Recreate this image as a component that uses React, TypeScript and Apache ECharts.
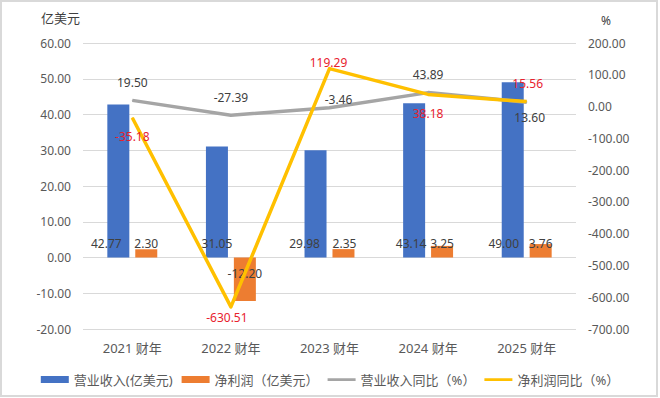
import React, { useEffect, useRef } from "react";
import * as echarts from "echarts";

const categories = ["2021 财年", "2022 财年", "2023 财年", "2024 财年", "2025 财年"];
const revenue = [42.77, 31.05, 29.98, 43.14, 49.0];
const netProfit = [2.3, -12.2, 2.35, 3.25, 3.76];
const revenueYoY = [19.5, -27.39, -3.46, 43.89, 13.6];
const netProfitYoY = [-35.18, -630.51, 119.29, 38.18, 15.56];

const leftAxis = { min: -20, max: 60, interval: 10 };
const rightAxis = { min: -700, max: 200, interval: 100 };

// label nudges (styling only)
const revenueLabelDx = [-12, 0, -11, -3, -9];
const netLabelDx = [0, 0, 1, 0, 0];
const revYoYOffset = [[0, -18], [0, -18], [9, -8], [0, -18], [3, 15]];
const npYoYOffset = [[0, 19], [-4, 11], [-1, -6], [0, 19], [1, -18]];

const FONT = '"Noto Sans", "Noto Sans CJK SC", sans-serif';
const LINE_ICON = "path://M0,0L0.01,0L0.01,0.01Z M0,2.2H28V5H0Z M27.99,7L28,7L28,6.99Z";

export default function App() {
  const ref = useRef<HTMLDivElement>(null);
  useEffect(() => {
    if (!ref.current) return;
    const chart = echarts.init(ref.current, null, { renderer: "svg" });
    const fmt2 = (v: number) => v.toFixed(2);
    chart.setOption({
      animation: false,
      backgroundColor: "#ffffff",
      textStyle: { fontFamily: FONT },
      grid: { left: 83, right: 84, top: 43, bottom: 69 },
      graphic: [
        {
          type: "rect",
          shape: { x: 1, y: 1, width: 656, height: 395 },
          style: { fill: "none", stroke: "#d9d9d9", lineWidth: 2 },
          silent: true,
        },
        {
          type: "text",
          x: 41,
          y: 11,
          style: { text: "亿美元", fontSize: 13, fill: "#404040", fontFamily: FONT },
        },
        {
          type: "text",
          x: 601,
          y: 14,
          style: { text: "%", fontSize: 12, fill: "#404040", fontFamily: FONT },
        },
      ],
      legend: {
        left: "center",
        top: 368,
        itemWidth: 28,
        itemHeight: 7,
        itemGap: 9,
        textStyle: { fontSize: 13, color: "#595959", fontFamily: FONT },
        data: [
          { name: "营业收入(亿美元)", icon: "rect" },
          { name: "净利润（亿美元）", icon: "rect" },
          { name: "营业收入同比（%）", icon: LINE_ICON },
          { name: "净利润同比（%）", icon: LINE_ICON },
        ],
      },
      xAxis: {
        type: "category",
        data: categories,
        axisLine: { show: false },
        axisTick: { show: false },
        axisLabel: { fontSize: 13, color: "#595959", margin: 12, fontFamily: FONT },
      },
      yAxis: [
        {
          type: "value",
          min: leftAxis.min,
          max: leftAxis.max,
          interval: leftAxis.interval,
          axisLine: { show: false },
          axisTick: { show: false },
          axisLabel: { fontSize: 12, color: "#595959", margin: 12, formatter: fmt2, fontFamily: FONT },
          splitLine: { lineStyle: { color: "#d9d9d9", width: 1 } },
        },
        {
          type: "value",
          min: rightAxis.min,
          max: rightAxis.max,
          interval: rightAxis.interval,
          axisLine: { show: false },
          axisTick: { show: false },
          axisLabel: { fontSize: 12, color: "#595959", margin: 12, formatter: fmt2, fontFamily: FONT },
          splitLine: { show: false },
        },
      ],
      series: [
        {
          name: "营业收入(亿美元)",
          type: "bar",
          barWidth: 22,
          barGap: "27%",
          itemStyle: { color: "#4472C4" },
          data: revenue.map((v, i) => ({
            value: v,
            label: { offset: [revenueLabelDx[i], 0] },
          })),
          label: {
            show: true,
            position: "insideBottom",
            distance: 8,
            fontSize: 12,
            color: "#404040",
            fontFamily: FONT,
            formatter: (p: any) => fmt2(p.value),
          },
        },
        {
          name: "净利润（亿美元）",
          type: "bar",
          barWidth: 22,
          barGap: "27%",
          itemStyle: { color: "#ED7D31" },
          data: netProfit.map((v, i) => ({
            value: v,
            label:
              v < 0
                ? { position: "insideTop", distance: 10, offset: [netLabelDx[i], 0] }
                : { offset: [netLabelDx[i], 0] },
          })),
          label: {
            show: true,
            position: "insideBottom",
            distance: 8,
            fontSize: 12,
            color: "#404040",
            fontFamily: FONT,
            formatter: (p: any) => fmt2(p.value),
          },
        },
        {
          name: "营业收入同比（%）",
          type: "line",
          yAxisIndex: 1,
          symbol: "circle",
          symbolSize: 1,
          lineStyle: { color: "#A5A5A5", width: 3.5, join: "round" },
          itemStyle: { color: "#A5A5A5" },
          data: revenueYoY.map((v, i) => ({
            value: v,
            label: { offset: revYoYOffset[i] },
          })),
          label: {
            show: true,
            position: "inside",
            fontSize: 12,
            color: "#404040",
            fontFamily: FONT,
            formatter: (p: any) => fmt2(p.value),
          },
        },
        {
          name: "净利润同比（%）",
          type: "line",
          yAxisIndex: 1,
          symbol: "circle",
          symbolSize: 1,
          lineStyle: { color: "#FFC000", width: 3.5, join: "round" },
          itemStyle: { color: "#FFC000" },
          data: netProfitYoY.map((v, i) => ({
            value: v,
            label: { offset: npYoYOffset[i] },
          })),
          label: {
            show: true,
            position: "inside",
            fontSize: 12,
            color: "#E8222E",
            fontFamily: FONT,
            formatter: (p: any) => fmt2(p.value),
          },
        },
      ],
    });
    return () => chart.dispose();
  }, []);
  return (
    <div
      ref={ref}
      style={{ position: "fixed", left: 0, top: 0, width: 660, height: 398, background: "#fff" }}
    />
  );
}
